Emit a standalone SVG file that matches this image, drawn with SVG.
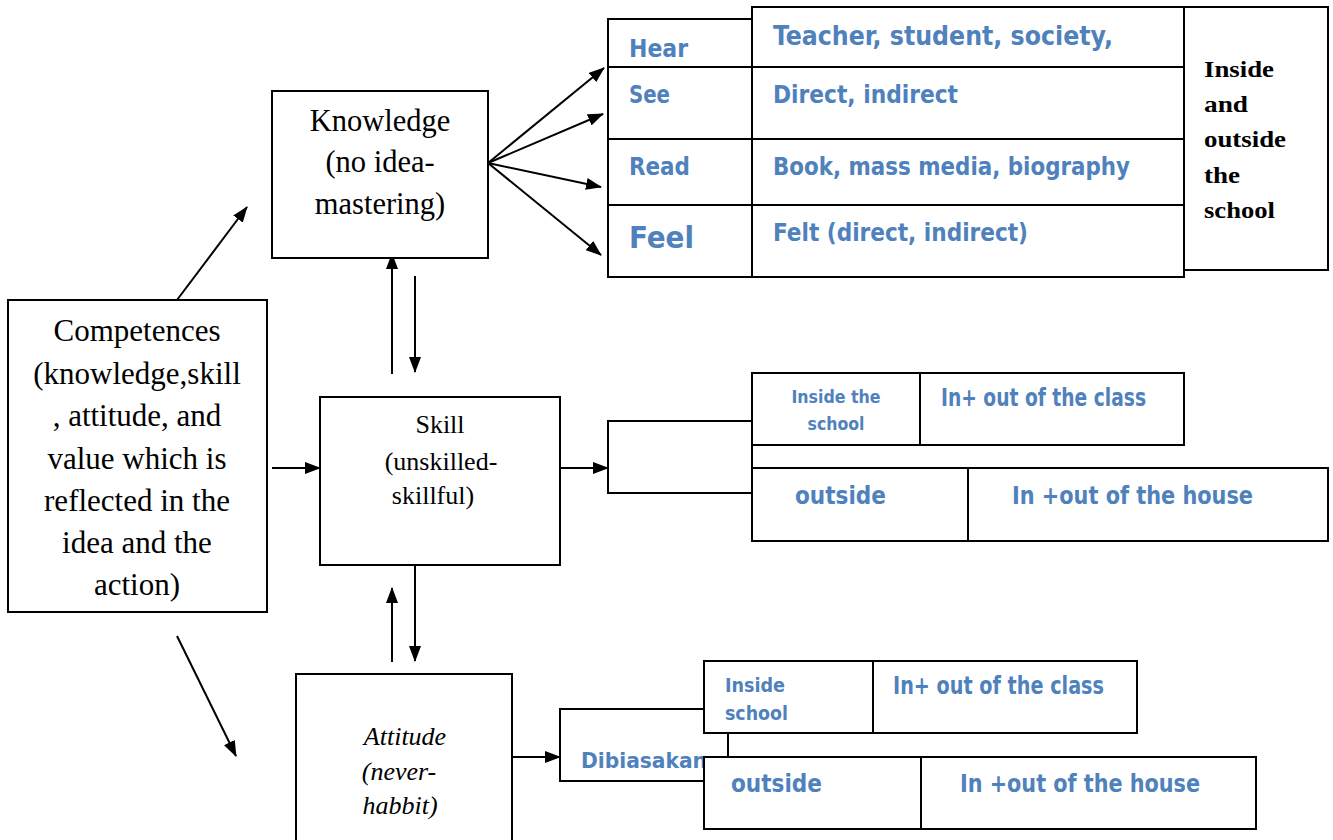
<svg xmlns="http://www.w3.org/2000/svg" width="1333" height="840" viewBox="0 0 1333 840">
<style>
.box{fill:#fff;stroke:#000;stroke-width:2}
.ln{fill:none;stroke:#000;stroke-width:2}
.ar{fill:none;stroke:#000;stroke-width:2;marker-end:url(#ah)}
.tm{font-family:"Liberation Serif","Times New Roman",serif;fill:#000;text-anchor:middle}
.tb{font-family:"Liberation Serif","Times New Roman",serif;font-weight:bold;fill:#000}
.bl{font-family:"Liberation Sans Narrow","DejaVu Sans Condensed","Liberation Sans",sans-serif;font-weight:bold;fill:#4F81BD}
</style>
<defs>
<marker id="ah" markerUnits="userSpaceOnUse" markerWidth="16" markerHeight="12" refX="15" refY="6" orient="auto">
<path d="M0,0 L16,6 L0,12 Z" fill="#000"/>
</marker>
</defs>

<g id="connectors">
<line class="ar" x1="177" y1="300" x2="247" y2="207"/>
<line class="ar" x1="272" y1="468" x2="320" y2="468"/>
<line class="ar" x1="177" y1="636" x2="236" y2="756"/>
<line class="ar" x1="392" y1="374" x2="392" y2="254"/>
<line class="ar" x1="415" y1="276" x2="415" y2="372"/>
<line class="ar" x1="392" y1="662" x2="392" y2="588"/>
<line class="ar" x1="415" y1="565" x2="415" y2="661"/>
<line class="ar" x1="488" y1="163" x2="604" y2="68"/>
<line class="ar" x1="488" y1="163" x2="603" y2="114"/>
<line class="ar" x1="488" y1="163" x2="601" y2="187"/>
<line class="ar" x1="488" y1="163" x2="601" y2="255"/>
<line class="ar" x1="560" y1="468" x2="608" y2="468"/>
<line class="ar" x1="512" y1="757" x2="560" y2="757"/>
<polyline class="ln" points="752,421 608,421 608,493 752,493"/>
<line class="ln" x1="752" y1="445" x2="752" y2="468"/>
</g>

<g id="competences">
<rect class="box" x="8" y="300" width="259" height="312"/>
<text class="tm" font-size="31" x="137" y="341">Competences</text>
<text class="tm" font-size="31" x="137" y="384">(knowledge,skill</text>
<text class="tm" font-size="31" x="137" y="426">, attitude, and</text>
<text class="tm" font-size="31" x="137" y="469">value which is</text>
<text class="tm" font-size="31" x="137" y="511">reflected in the</text>
<text class="tm" font-size="31" x="137" y="553">idea and the</text>
<text class="tm" font-size="31" x="137" y="595">action)</text>
</g>

<g id="knowledge">
<rect class="box" x="272" y="91" width="216" height="167"/>
<text class="tm" font-size="30.5" x="380" y="131">Knowledge</text>
<text class="tm" font-size="30.5" x="380" y="172">(no idea-</text>
<text class="tm" font-size="30.5" x="380" y="214">mastering)</text>
</g>

<g id="skill">
<rect class="box" x="320" y="397" width="240" height="168"/>
<text class="tm" font-size="26" x="440" y="433">Skill</text>
<text class="tm" font-size="26" x="441" y="470">(unskilled-</text>
<text class="tm" font-size="26" x="433" y="504">skillful)</text>
</g>

<g id="attitude">
<rect class="box" x="296" y="674" width="216" height="180"/>
<text class="tm" font-size="26" font-style="italic" x="405" y="745">Attitude</text>
<text class="tm" font-size="26" font-style="italic" x="399" y="780">(never-</text>
<text class="tm" font-size="26" font-style="italic" x="400" y="814">habbit)</text>
</g>

<g id="knowledge-table">
<rect class="box" x="752" y="7" width="432" height="270"/>
<rect class="box" x="608" y="19" width="144" height="258"/>
<rect class="box" x="1184" y="7" width="144" height="263"/>
<line class="ln" x1="608" y1="67" x2="1184" y2="67"/>
<line class="ln" x1="608" y1="139" x2="1184" y2="139"/>
<line class="ln" x1="608" y1="205" x2="1184" y2="205"/>
<text class="bl" font-size="24" x="629" y="57" textLength="59" lengthAdjust="spacingAndGlyphs">Hear</text>
<text class="bl" font-size="24" x="629" y="103" textLength="41" lengthAdjust="spacingAndGlyphs">See</text>
<text class="bl" font-size="24" x="629" y="175" textLength="61" lengthAdjust="spacingAndGlyphs">Read</text>
<text class="bl" font-size="31" x="629" y="248" textLength="65" lengthAdjust="spacingAndGlyphs">Feel</text>
<text class="bl" font-size="26" x="773" y="45" textLength="340" lengthAdjust="spacingAndGlyphs">Teacher, student, society,</text>
<text class="bl" font-size="24" x="773" y="103" textLength="185" lengthAdjust="spacingAndGlyphs">Direct, indirect</text>
<text class="bl" font-size="24" x="773" y="175" textLength="357" lengthAdjust="spacingAndGlyphs">Book, mass media, biography</text>
<text class="bl" font-size="24" x="773" y="241" textLength="255" lengthAdjust="spacingAndGlyphs">Felt (direct, indirect)</text>
<text class="tb" font-size="24" x="1204" y="77" textLength="70" lengthAdjust="spacingAndGlyphs">Inside</text>
<text class="tb" font-size="24" x="1204" y="112" textLength="44" lengthAdjust="spacingAndGlyphs">and</text>
<text class="tb" font-size="24" x="1204" y="147" textLength="82" lengthAdjust="spacingAndGlyphs">outside</text>
<text class="tb" font-size="24" x="1204" y="183" textLength="36" lengthAdjust="spacingAndGlyphs">the</text>
<text class="tb" font-size="24" x="1204" y="218" textLength="71" lengthAdjust="spacingAndGlyphs">school</text>
</g>

<g id="skill-table">
<rect class="box" x="752" y="373" width="432" height="72"/>
<line class="ln" x1="920" y1="373" x2="920" y2="445"/>
<rect class="box" x="752" y="468" width="576" height="73"/>
<line class="ln" x1="968" y1="468" x2="968" y2="541"/>
<text class="bl" font-size="18" x="836" y="403" text-anchor="middle" textLength="89" lengthAdjust="spacingAndGlyphs">Inside the</text>
<text class="bl" font-size="18" x="836" y="430" text-anchor="middle" textLength="57" lengthAdjust="spacingAndGlyphs">school</text>
<text class="bl" font-size="24" x="941" y="406" textLength="205" lengthAdjust="spacingAndGlyphs">In+ out of the class</text>
<text class="bl" font-size="25" x="795" y="504" textLength="91" lengthAdjust="spacingAndGlyphs">outside</text>
<text class="bl" font-size="25" x="1012" y="504" textLength="241" lengthAdjust="spacingAndGlyphs">In +out of the house</text>
</g>

<g id="attitude-table">
<rect class="box" x="560" y="709" width="168" height="72"/>
<text class="bl" font-size="22" x="581" y="768" textLength="126" lengthAdjust="spacingAndGlyphs">Dibiasakan</text>
<rect class="box" x="704" y="661" width="433" height="72"/>
<line class="ln" x1="873" y1="661" x2="873" y2="733"/>
<rect class="box" x="704" y="757" width="552" height="72"/>
<line class="ln" x1="921" y1="757" x2="921" y2="829"/>
<text class="bl" font-size="20" x="725" y="692" textLength="60" lengthAdjust="spacingAndGlyphs">Inside</text>
<text class="bl" font-size="20" x="725" y="720" textLength="63" lengthAdjust="spacingAndGlyphs">school</text>
<text class="bl" font-size="24" x="893" y="694" textLength="211" lengthAdjust="spacingAndGlyphs">In+ out of  the class</text>
<text class="bl" font-size="25" x="731" y="792" textLength="91" lengthAdjust="spacingAndGlyphs">outside</text>
<text class="bl" font-size="25" x="960" y="792" textLength="240" lengthAdjust="spacingAndGlyphs">In +out of the house</text>
</g>
</svg>
